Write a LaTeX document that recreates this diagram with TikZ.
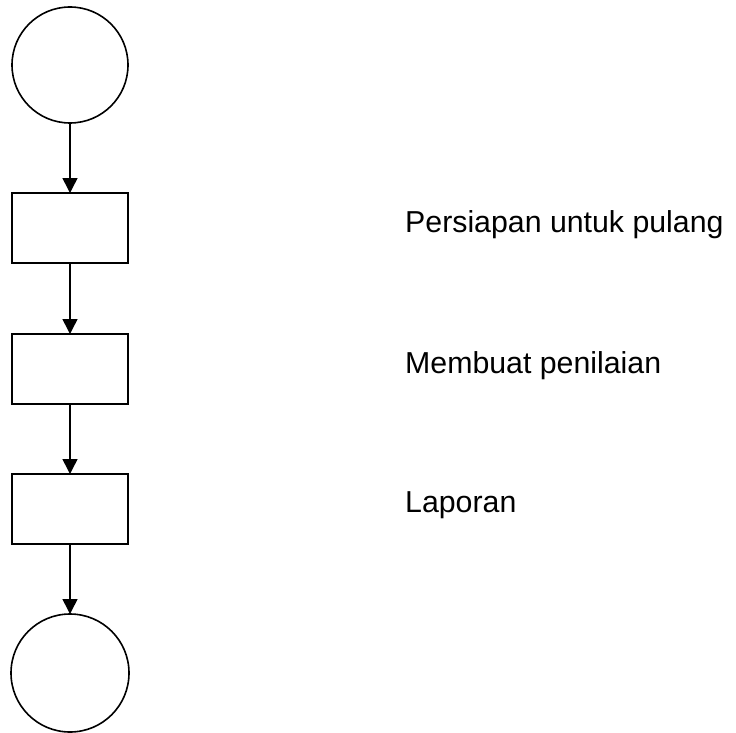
\documentclass[tikz,border=0pt]{standalone}
\usepackage{fontspec}
\setmainfont{Liberation Sans}
\usetikzlibrary{arrows.meta}
\begin{document}
\begin{tikzpicture}[x=1pt,y=1pt,
  shp/.style={draw=black,line width=1.6pt,fill=white,inner sep=0pt,outer sep=0pt},
  circ/.style={shp,circle,minimum size=116pt},
  box/.style={shp,rectangle,minimum width=116pt,minimum height=70pt},
  lbl/.style={anchor=base west,inner sep=0pt,font=\fontsize{30.3}{35}\selectfont},
  conn/.style={line width=1.6pt,-{Triangle[length=15pt,width=15pt]}}]
\useasboundingbox (0,0) rectangle (736,-733);
\node[circ] (start) at (70,-65) {};
\node[box] (b1) at (70,-228) {};
\node[box] (b2) at (70,-369) {};
\node[box] (b3) at (70,-509) {};
\node[circ,minimum size=118pt] (end) at (70,-673) {};
\draw[conn] (start) -- (b1);
\draw[conn] (b1) -- (b2);
\draw[conn] (b2) -- (b3);
\draw[conn] (b3) -- (end);
\node[lbl] (t1) at (405,-232) {Persiapan untuk pulang};
\node[lbl] (t2) at (405,-373) {Membuat penilaian};
\node[lbl] (t3) at (405,-512) {Laporan};
\end{tikzpicture}
\end{document}
